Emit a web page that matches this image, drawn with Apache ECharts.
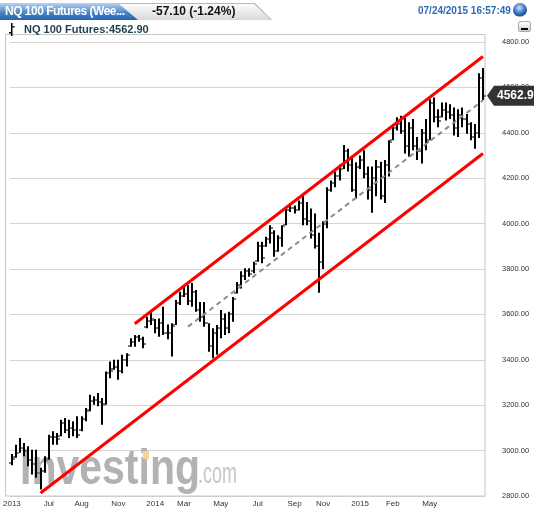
<!DOCTYPE html>
<html>
<head>
<meta charset="utf-8">
<script src="https://cdn.jsdelivr.net/npm/echarts@6/dist/echarts.min.js"></script>
<style>
html,body{margin:0;padding:0;background:#fff;}
#wrap{position:relative;width:534px;height:514px;overflow:hidden;font-family:"Liberation Sans",Arial,sans-serif;}
#chart{position:absolute;left:0;top:0;width:534px;height:514px;}
.hd{position:absolute;pointer-events:none;white-space:nowrap;}
#tabGray{left:0;top:3px;width:272px;height:17px;background:linear-gradient(#ffffff,#d9d9d9);clip-path:polygon(0 0,255px 0,272px 17px,0 17px);}
#tabGrayEdge{left:0;top:3px;width:272px;height:17px;background:#b8b8b8;clip-path:polygon(0 0,255px 0,272px 17px,271px 17px,254px 1px,0 1px);}
#tabBlue{left:0;top:3px;width:138px;height:17px;background:linear-gradient(#b9d3ef,#4f87c8 55%,#2463ad);clip-path:polygon(0 0,118px 0,138px 17px,0 17px);}
#t1{left:5px;top:3px;color:#fff;font-weight:bold;font-size:12px;line-height:17px;letter-spacing:-0.5px;}
#t2{left:152px;top:3px;color:#111;font-weight:bold;font-size:12px;line-height:17px;}
#t3{left:418px;top:4px;color:#2c6bb3;font-weight:bold;font-size:10px;line-height:14px;}
#btn{left:513px;top:3px;width:14px;height:14px;border-radius:50%;background:radial-gradient(circle at 45% 35%,#cfe2f7 0,#3b78c4 45%,#1c4f95 70%,#9a9a9a 72%,#d0d0d0 100%);}
#t4{left:24px;top:22px;color:#1c3e4e;font-weight:bold;font-size:11px;line-height:14px;}
#ico{left:9px;top:23px;width:6px;height:13px;}
#min{left:518px;top:21px;width:13px;height:11px;border-radius:2px;background:linear-gradient(#ffffff,#cfcfcf);border:1px solid #aaa;box-sizing:border-box;}
#minbar{left:521px;top:28px;width:7px;height:2px;background:#000;}
</style>
</head>
<body>
<div id="wrap">
<div id="chart"></div>
<div class="hd" id="tabGray"></div>
<div class="hd" id="tabGrayEdge"></div>
<div class="hd" id="tabBlue"></div>
<div class="hd" id="t1">NQ 100 Futures (Wee...</div>
<div class="hd" id="t2">-57.10 (-1.24%)</div>
<div class="hd" id="t3">07/24/2015 16:57:49</div>
<div class="hd" id="btn"></div>
<svg class="hd" id="ico" viewBox="0 0 6 13"><rect x="2" y="0" width="1.5" height="13" fill="#000"/><rect x="0" y="9" width="2" height="1.5" fill="#000"/><rect x="3.5" y="3" width="2" height="1.5" fill="#000"/></svg>
<div class="hd" id="t4">NQ 100 Futures:4562.90</div>
<div class="hd" id="min"></div>
<div class="hd" id="minbar"></div>
</div>
<script>
// ---- data (weekly bars, first week starting 2013-05-06) ----
const startDate = '2013-05-06';
const open = [2945,2970,2990,3010,3000,2960,2940,2900,2910,2965,3060,3060,3065,3120,3090,3100,3090,3090,3140,3180,
3220,3225,3215,3205,3340,3360,3370,3350,3400,3462,3480,3500,3490,3545,3570,3575,3540,3560,3520,3520,
3555,3650,3680,3690,3660,3700,3620,3590,3560,3460,3520,3540,3580,3540,3600,3695,3730,3770,3790,3790,
3835,3900,3900,3930,3960,3880,3935,3995,4060,4070,4060,4090,4020,4010,3950,3900,3830,4000,4150,4180,
4210,4240,4320,4260,4150,4250,4280,4220,4150,4200,4250,4120,4260,4370,4420,4440,4410,4340,4420,4340,
4320,4400,4370,4530,4470,4470,4500,4490,4480,4420,4480,4460,4440,4380,4400,4640];
const high = [2985,3026,3056,3034,3019,3004,3004,2924,2975,3070,3085,3078,3136,3144,3136,3129,3151,3151,3188,3246,
3239,3254,3232,3349,3393,3400,3400,3422,3429,3495,3509,3509,3502,3590,3612,3580,3582,3634,3555,3561,
3663,3700,3721,3728,3738,3707,3655,3655,3561,3539,3553,3619,3604,3612,3677,3743,3790,3803,3803,3832,
3920,3920,3942,3993,3971,3949,3993,4073,4088,4080,4102,4124,4095,4066,4044,3960,4010,4160,4190,4230,
4260,4346,4330,4290,4270,4300,4323,4251,4251,4280,4272,4280,4367,4439,4468,4475,4468,4446,4461,4381,
4417,4461,4548,4555,4504,4533,4533,4526,4512,4504,4512,4483,4446,4439,4662,4685];
const low = [2935,2968,2990,2975,2931,2895,2880,2829,2902,2960,3026,3026,3063,3078,3056,3063,3056,3085,3129,3173,
3202,3195,3114,3202,3319,3356,3312,3341,3371,3458,3458,3480,3451,3539,3553,3517,3502,3509,3490,3415,
3553,3641,3677,3641,3634,3612,3568,3546,3436,3407,3422,3495,3509,3517,3568,3692,3714,3752,3766,3781,
3832,3825,3898,3912,3854,3876,3898,3993,4051,4044,4058,3993,3993,3934,3890,3695,3800,3980,4140,4160,
4190,4240,4230,4140,4110,4240,4200,4106,4048,4120,4106,4091,4207,4367,4410,4396,4309,4294,4323,4280,
4265,4323,4367,4446,4425,4468,4454,4461,4388,4381,4425,4396,4367,4330,4377,4545];
const close = [2965,2990,3010,3000,2960,2940,2900,2910,2960,3060,3060,3050,3120,3090,3100,3090,3070,3140,3175,3220,
3225,3215,3200,3340,3350,3370,3350,3400,3420,3480,3500,3490,3470,3570,3580,3540,3560,3520,3520,3550,
3650,3680,3690,3660,3700,3620,3590,3560,3460,3520,3540,3580,3540,3600,3670,3730,3770,3790,3780,3820,
3900,3850,3930,3980,3880,3935,3990,4060,4070,4060,4090,4020,4010,3950,3900,3830,4000,4150,4180,4210,
4240,4320,4260,4150,4250,4280,4220,4150,4200,4250,4120,4260,4360,4420,4440,4410,4340,4420,4340,4320,
4400,4360,4530,4470,4450,4500,4490,4480,4420,4480,4460,4440,4380,4400,4640,4562.9];

// trend channel lines: [bar index, price]
const upperLine = [[30, 3559], [115, 4736]];
const lowerLine = [[7, 2813], [115, 4309]];
const midLine = [[43, 3546], [115, 4543]];

// x tick labels
const tickIndex = [0, 9, 17, 26, 35, 42, 51, 60, 69, 76, 85, 93, 102];
const tickText = ['2013','Jul','Aug','Nov','2014','Mar','May','Jul','Sep','Nov','2015','Feb','May'];
const yMin = 2800, yMax = 4800, yStep = 200;
const lastLabel = '4562.9';

// categories (weekly dates)
const categories = [];
{
  const d0 = new Date(startDate + 'T00:00:00Z');
  for (let i = 0; i < close.length; i++) {
    const d = new Date(d0.getTime() + i * 7 * 86400000);
    categories.push(d.toISOString().slice(0, 10));
  }
}
const ohlc = close.map((c, i) => [i, open[i], high[i], low[i], c]);

const chart = echarts.init(document.getElementById('chart'), null, {renderer: 'canvas'});

function renderItem(params, api) {
  const i = api.value(0);
  const pH = api.coord([i, api.value(2)]);
  const pL = api.coord([i, api.value(3)]);
  const pO = api.coord([i, api.value(1)]);
  const pC = api.coord([i, api.value(4)]);
  const x = Math.round(pH[0]);
  return {
    type: 'group',
    children: [
      {type: 'rect', shape: {x: x - 1, y: pH[1], width: 2, height: Math.max(1, pL[1] - pH[1])}, style: {fill: '#000'}},
      {type: 'rect', shape: {x: x - 3, y: Math.round(pO[1]) - 1, width: 2, height: 2}, style: {fill: '#7a7a7a'}},
      {type: 'rect', shape: {x: x + 1, y: Math.round(pC[1]) - 1, width: 2, height: 2}, style: {fill: '#7a7a7a'}}
    ]
  };
}

const FONT = '"Liberation Sans", Arial, sans-serif';

chart.setOption({
  animation: false,
  grid: {left: 9.65, top: 42, width: 475.35, height: 454},
  xAxis: {
    type: 'category',
    data: categories,
    boundaryGap: true,
    axisLine: {show: false},
    axisTick: {show: false},
    splitLine: {show: false},
    axisLabel: {
      interval: (idx) => tickIndex.indexOf(idx) >= 0,
      formatter: (v, idx) => { const k = tickIndex.indexOf(idx); return k >= 0 ? tickText[k] : ''; },
      fontSize: 8, color: '#333', fontFamily: FONT, margin: 4
    }
  },
  yAxis: {
    type: 'value',
    position: 'right',
    min: yMin, max: yMax, interval: yStep,
    axisLine: {show: false},
    axisTick: {show: false},
    splitLine: {show: true, lineStyle: {color: '#d6d6d6', width: 1}},
    axisLabel: {
      formatter: (v) => v.toFixed(2),
      fontSize: 7.5, color: '#333', fontFamily: FONT, margin: 17, align: 'left'
    }
  },
  graphic: [
    {id: 'frame', type: 'rect', z: 1, silent: true,
     shape: {x: 5.5, y: 34.5, width: 479.5, height: 461.5},
     style: {fill: 'none', stroke: '#c6c6c6', lineWidth: 1}},
    {id: 'wm1', type: 'text', z: 1, silent: true, x: 20, y: 445, scaleX: 0.82,
     style: {text: 'Investing', fontSize: 50, fontWeight: 'bold', fontFamily: FONT, fill: '#b2b2b2'}},
    {id: 'wm2', type: 'text', z: 1, silent: true, x: 198, y: 460, scaleX: 0.6,
     style: {text: '.com', fontSize: 30, fontFamily: FONT, fill: '#c6c6c6'}},
    {id: 'wmdot', type: 'rect', z: 1, silent: true,
     shape: {x: 143, y: 451, width: 6, height: 8}, style: {fill: '#f6d49a'}}
  ],
  series: [
    {type: 'custom', name: 'NQ 100 Futures', renderItem: renderItem, data: ohlc,
     encode: {x: 0, y: [1, 2, 3, 4]}, z: 3, clip: false},
    {type: 'line', data: midLine, symbol: 'none', z: 4,
     lineStyle: {color: '#8c8c8c', width: 2, type: [5, 4]}},
    {type: 'line', data: upperLine, symbol: 'none', z: 5,
     lineStyle: {color: '#ff0000', width: 3}},
    {type: 'line', data: lowerLine, symbol: 'none', z: 5,
     lineStyle: {color: '#ff0000', width: 3}}
  ]
});

// last price tag, placed through the y axis scale
const yTag = chart.convertToPixel({yAxisIndex: 0}, close[close.length - 1]);
chart.setOption({
  graphic: [
    {id: 'tag', type: 'polygon', z: 10, silent: true,
     shape: {points: [[487, yTag], [494, yTag - 10], [534, yTag - 10], [534, yTag + 10], [494, yTag + 10]]},
     style: {fill: '#333333'}},
    {id: 'tagText', type: 'text', z: 11, silent: true, x: 497, y: yTag,
     style: {text: lastLabel, fontSize: 12, fontWeight: 'bold', fontFamily: FONT, fill: '#ffffff', verticalAlign: 'middle'}}
  ]
});
</script>
</body>
</html>
